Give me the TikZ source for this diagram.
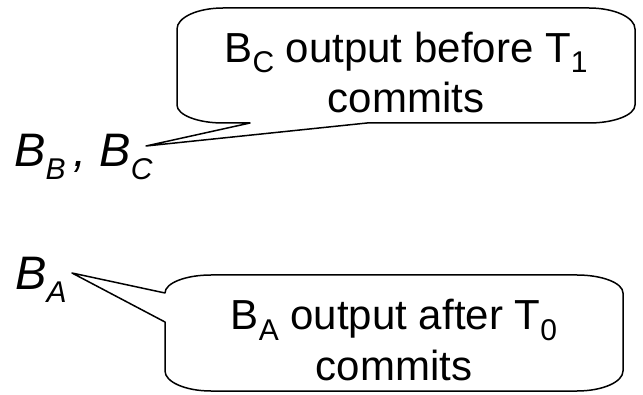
\documentclass[tikz,border=0pt]{standalone}
\usepackage{fontspec}
\setmainfont{Liberation Sans}
\newcommand\boxsub[1]{\raisebox{-10pt}{\fontsize{30}{30}\selectfont #1}}
\newcommand\labsub[1]{\raisebox{-13pt}{\fontsize{30}{30}\selectfont\itshape #1}}
\tikzset{
  callout/.style={draw=black, line width=1.5pt, line join=round, fill=white},
  boxtext/.style={inner sep=0pt, anchor=base, font=\fontsize{42}{50}\selectfont},
  labeltext/.style={inner sep=0pt, anchor=base west, font=\fontsize{47}{50}\selectfont\itshape}
}
\begin{document}
\begin{tikzpicture}[x=1pt,y=1pt]
\useasboundingbox (0,0) rectangle (643,394);
% left labels
\node[labeltext] (bbc) at (14,227) {B\labsub{B}\,, B\labsub{C}};
\node[labeltext] (ba) at (15,104) {B\labsub{A}};
% top callout
\coordinate (tiptop) at (146,248);
\draw[callout] (223,386) -- (589,386)
  arc[start angle=90,end angle=0,x radius=46,y radius=21] -- (635,289)
  arc[start angle=0,end angle=-90,x radius=46,y radius=18] -- (367,271)
  -- (tiptop) -- (250,271) -- (223,271)
  arc[start angle=270,end angle=180,x radius=46,y radius=18] -- (177,365)
  arc[start angle=180,end angle=90,x radius=46,y radius=21] -- cycle;
\node[boxtext] (t1) at (406,331) {B\boxsub{C} output before T\boxsub{1}};
\node[boxtext] (t2) at (406,281) {commits};
% bottom callout
\coordinate (tipbot) at (72,121);
\draw[callout] (211,119) -- (577,119)
  arc[start angle=90,end angle=0,x radius=46,y radius=18] -- (623,23)
  arc[start angle=0,end angle=-90,x radius=46,y radius=20] -- (211,3)
  arc[start angle=270,end angle=180,x radius=46,y radius=20] -- (165,72)
  -- (tipbot) -- (165,101)
  arc[start angle=180,end angle=90,x radius=46,y radius=18] -- cycle;
\node[boxtext] (b1) at (394,64) {B\boxsub{A} output after T\boxsub{0}};
\node[boxtext] (b2) at (394,14) {commits};
\end{tikzpicture}
\end{document}
